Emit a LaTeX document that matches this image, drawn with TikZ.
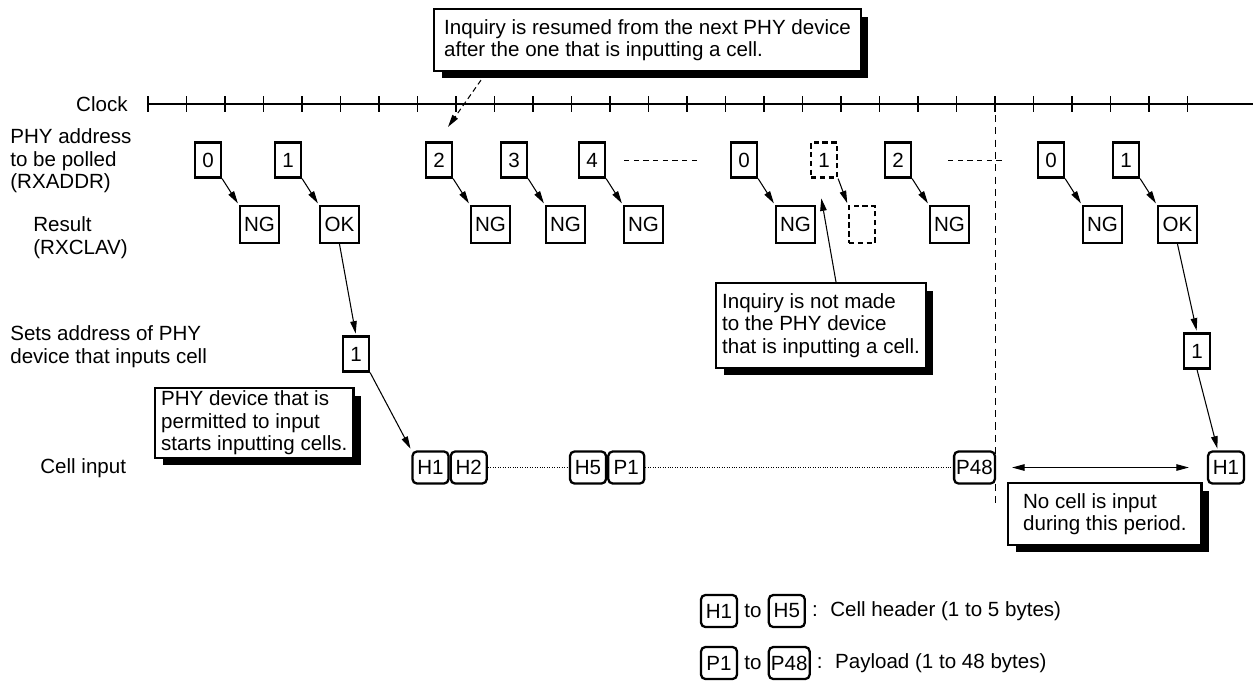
\documentclass[tikz,border=0pt]{standalone}
\usepackage{fontspec}
\setmainfont{Liberation Sans}
\usepackage{tikz}
\usetikzlibrary{calc}
\usetikzlibrary{shapes,arrows.meta,positioning,shadows}

\tikzset{
  every node/.style={font=\fontsize{11.7}{12.9}\selectfont},
  >={Triangle[length=0.25cm,width=0.13cm]},
  addr/.style={draw,line width=1.3pt,minimum width=0.52cm,minimum height=0.7cm,inner sep=0pt},
  res/.style={draw,line width=1.3pt,minimum width=0.78cm,minimum height=0.74cm,inner sep=0pt},
  skipped/.style={dash pattern=on 3pt off 2pt},
  cell/.style={draw,line width=1.3pt,rounded corners=2.5pt,minimum width=0.72cm,minimum height=0.64cm,inner sep=1.2pt},
  notebox/.style={draw,line width=1.3pt,fill=white,align=left,inner xsep=0.22cm,inner ysep=0.2cm,
    general shadow={fill=black,shadow xshift=0.15cm,shadow yshift=-0.15cm}},
  rowlabel/.style={inner sep=0pt,align=left},
  link/.style={->,line width=0.6pt,shorten >=1pt},
}

\begin{document}
\begin{tikzpicture}[x=0.02cm,y=-0.02cm]
	\useasboundingbox (0,0) rectangle (1253,681);
	\node[rowlabel,anchor=east] (clk) at (128,104) {Clock};
	\node[rowlabel,anchor=west] (addrlbl) at (10,161) {PHY address\\to be polled\\(RXADDR)};
	\node[rowlabel,anchor=west] (reslbl) at (33,238) {Result\\(RXCLAV)};
	\node[rowlabel,anchor=west] (setlbl) at (10,347) {Sets address of PHY\\device that inputs cell};
	\node[rowlabel,anchor=west] (celllbl) at (40,468) {Cell input};
	\draw[line width=0.6pt] (148,104) -- (1253,104);
	\foreach \k in {0,...,27}
		\draw[line width=0.6pt] (148+38.5*\k,96) -- (148+38.5*\k,112);
	\foreach \i/\x/\t/\r in {0/208/0/NG,1/288/1/OK,2/439/2/NG,3/514/3/NG,4/592/4/NG,5/744/0/NG,7/898/2/NG,8/1051/0/NG,9/1126/1/OK}{
		\node[addr] (a\i) at (\x,160) {\t};
		\node[res] (r\i) at (\x+51.5,224.5) {\r};
		\draw[link] (a\i.south east) -- (r\i.north west);
	}
	\node[addr,skipped] (a6) at (824,160) {1};
	\node[addr,skipped,minimum height=0.74cm] (r6) at (862,224.5) {};
	\draw[link] (a6.south east) -- (r6.north west);
	\draw[dash pattern=on 3pt off 2.5pt] ($(a4.east)+(18,0)$) -- ($(a5.west)+(-30,0)$);
	\draw[dash pattern=on 3pt off 2.5pt] ($(a7.east)+(36,0)$) -- ($(a8.west)+(-33,0)$);
	\draw[dash pattern=on 4pt off 3pt] (995,115) -- (995,508);
	\node[addr] (s1) at (356,354) {1};
	\node[addr] (s2) at (1197,351) {1};
	\node[cell] (h1) at (430.5,467.5) {H1};
	\node[cell,right=0pt of h1] (h2) {H2};
	\node[cell] (h5) at (588,467.5) {H5};
	\node[cell,right=0pt of h5] (p1) {P1};
	\node[cell] (p48) at (974.5,467.5) {P48};
	\node[cell] (h1b) at (1226,467.5) {H1};
	\draw[densely dotted] (h2.east) -- (h5.west);
	\draw[densely dotted] (p1.east) -- (p48.west);
	\draw[link] (r1.south) -- (s1.north);
	\draw[link] (s1.south east) -- (h1.north west);
	\draw[link] (r9.south) -- (s2.north);
	\draw[link] (s2.south) -- ($(h1b.north west)+(11,0)$);
	\draw[<->,line width=0.6pt] ($(p48.east)+(16,0)$) -- ($(h1b.west)+(-18,0)$);
	\node[notebox,anchor=north west,inner xsep=0.2cm] (resume) at (433,8) {Inquiry is resumed from the next PHY device\\after the one that is inputting a cell.};
	\node[notebox,anchor=north west,inner xsep=0.12cm,inner ysep=0.05cm] (permit) at (154,387) {PHY device that is\\permitted to input\\starts inputting cells.};
	\node[notebox,anchor=north west,inner xsep=0.12cm] (notmade) at (715,282) {Inquiry is not made\\to the PHY device\\that is inputting a cell.};
	\node[notebox,anchor=north west,inner xsep=0.3cm] (nocell) at (1007,482) {No cell is input\\during this period.};
	\draw[link,dash pattern=on 3pt off 2pt] ($(resume.south west)+(48,8)$) -- ($(a2.north)+(8,-13)$);
	\draw[link] ($(notmade.north west)+(121,0)$) -- ($(a6.south)+(-3,18)$);
	\node[cell] (kh1) at (719,611) {H1};
	\node[right=0pt of kh1] (kto1) {to};
	\node[cell,right=0pt of kto1] (kh5) {H5};
	\node[right=0pt of kh5] (kc1) {:};
	\node[right=0pt of kc1] (kt1) {Cell header (1 to 5 bytes)};
	\node[cell] (kp1) at (719,663) {P1};
	\node[right=0pt of kp1] (kto2) {to};
	\node[cell,right=0pt of kto2] (kp48) {P48};
	\node[right=0pt of kp48] (kc2) {:};
	\node[right=0pt of kc2] (kt2) {Payload (1 to 48 bytes)};
\end{tikzpicture}
\end{document}
